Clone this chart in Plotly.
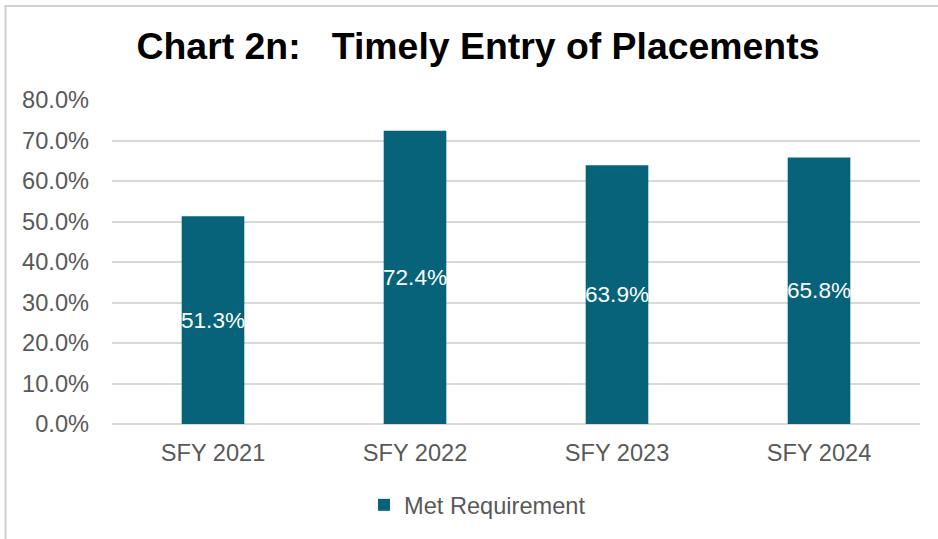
import plotly.graph_objects as go

categories = ["SFY 2021", "SFY 2022", "SFY 2023", "SFY 2024"]
met_requirement = [51.3, 72.4, 63.9, 65.8]
y_tick_vals = [0, 10, 20, 30, 40, 50, 60, 70, 80]
y_tick_text = ["0.0%", "10.0%", "20.0%", "30.0%", "40.0%", "50.0%", "60.0%", "70.0%", "80.0%"]
series_name = "Met Requirement"
title_text = "Chart 2n:   Timely Entry of Placements"

W, H = 938, 539
L, R, T, B = 112, 18, 100, 115
pw, ph = W - L - R, H - T - B
FONT = "Liberation Sans, Arial, sans-serif"

def px_x(p):
    return (p - L) / pw

def px_y(p):
    return (H - B - p) / ph

fig = go.Figure()
fig.add_trace(go.Bar(
    x=categories,
    y=met_requirement,
    name=series_name,
    marker=dict(color="#066379", line=dict(width=0)),
    text=[f"{v:.1f}%" for v in met_requirement],
    textposition="inside",
    insidetextanchor="middle",
    constraintext="none",
    textangle=0,
    textfont=dict(color="white", size=22.6, family=FONT),
    hoverinfo="skip",
))

border = dict(color="#d0d0d0", width=2)
fig.update_layout(
    width=W, height=H,
    margin=dict(l=L, r=R, t=T, b=B, autoexpand=False),
    paper_bgcolor="white",
    plot_bgcolor="white",
    font=dict(family=FONT, color="#595959", size=23.6),
    bargap=0.69,
    title=dict(
        text="<b>" + title_text + "</b>",
        x=478 / W, xanchor="center",
        y=1 - 46 / H, yanchor="middle",
        yref="container",
        font=dict(size=37.4, color="black", family=FONT),
    ),
    showlegend=True,
    legend=dict(
        orientation="h",
        xref="container", yref="container",
        x=364 / W, xanchor="left",
        y=1 - 505 / H, yanchor="middle",
        font=dict(size=23.6, color="#595959"),
        itemwidth=30,
    ),
    xaxis=dict(
        showgrid=False, showline=False, zeroline=False, ticks="",
        tickfont=dict(size=23.6, color="#595959"),
        ticklabelstandoff=12,
        automargin=False,
    ),
    yaxis=dict(
        range=[0, 80],
        tickvals=y_tick_vals,
        ticktext=y_tick_text,
        showgrid=True, gridcolor="#d9d9d9", gridwidth=2,
        zeroline=True, zerolinecolor="#d9d9d9", zerolinewidth=2,
        showline=False, ticks="",
        tickfont=dict(size=23.6, color="#595959"),
        ticklabelstandoff=22,
        automargin=False,
    ),
    shapes=[
        dict(type="line", xref="paper", yref="paper",
             x0=px_x(4.5), x1=px_x(945), y0=px_y(6), y1=px_y(6),
             line=border, layer="above"),
        dict(type="line", xref="paper", yref="paper",
             x0=px_x(5.5), x1=px_x(5.5), y0=px_y(5), y1=px_y(545),
             line=border, layer="above"),
    ],
)

fig.write_html(
    "out.html",
    config={"displayModeBar": False},
    post_script="document.body.style.margin='0';document.body.style.padding='0';",
)
